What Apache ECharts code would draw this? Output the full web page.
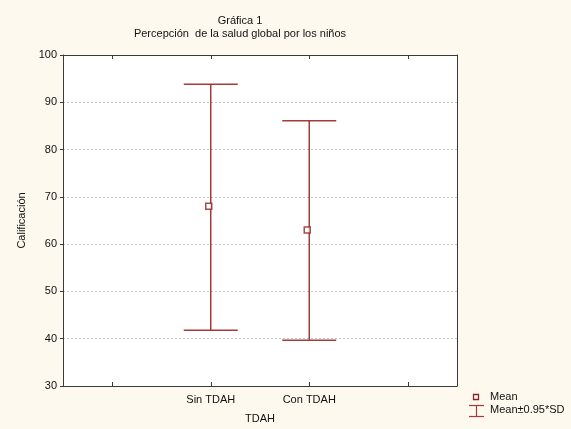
<!DOCTYPE html>
<html><head><meta charset="utf-8">
<script src="https://cdn.jsdelivr.net/npm/echarts@6/dist/echarts.min.js"></script>
<style>html,body{margin:0;padding:0;background:#fdf9ee;}#c{width:571px;height:429px;}</style>
</head><body><div id="c"></div>
<script>
var categories = ['', 'Sin TDAH', 'Con TDAH', ''];
var groupIndex = [1, 2];
var means = [68, 63];
var lower = [41.8, 39.7];
var upper = [93.8, 86.1];
var yTicks = [30, 40, 50, 60, 70, 80, 90, 100];

var RED = '#a63a3a';
var FONT = 'Liberation Sans, Arial, sans-serif';
var chart = echarts.init(document.getElementById('c'));

var errData = groupIndex.map(function (g, i) { return [g, lower[i], upper[i]]; });
var meanData = groupIndex.map(function (g, i) { return [g, means[i]]; });

chart.setOption({
  backgroundColor: '#fdf9ee',
  animation: false,
  title: [
    { text: 'Gráfica 1', left: 235, top: 10, textAlign: 'center',
      textStyle: { fontFamily: FONT, fontSize: 11, fontWeight: 'normal', color: '#111' } },
    { text: 'Percepción  de la salud global por los niños', left: 235, top: 23, textAlign: 'center',
      textStyle: { fontFamily: FONT, fontSize: 11, fontWeight: 'normal', color: '#111' } }
  ],
  grid: { left: 63, right: 114, top: 55, bottom: 41, show: true, backgroundColor: '#ffffff', borderWidth: 0 },
  xAxis: [
    { type: 'category', data: categories, boundaryGap: true, position: 'bottom',
      name: 'TDAH', nameLocation: 'middle', nameGap: 27,
      nameTextStyle: { fontFamily: FONT, fontSize: 11, color: '#111' },
      axisLine: { lineStyle: { color: '#3a3a3a', width: 1 } },
      axisTick: { show: true, alignWithLabel: true, interval: 0, inside: true, length: 4, lineStyle: { color: '#3a3a3a', width: 1 } },
      axisLabel: { fontFamily: FONT, fontSize: 11, color: '#111', margin: 8, interval: 0 },
      splitLine: { show: false } },
    { type: 'category', data: categories, boundaryGap: true, position: 'top',
      axisLine: { lineStyle: { color: '#3a3a3a', width: 1 } },
      axisTick: { show: true, alignWithLabel: true, interval: 0, inside: true, length: 4, lineStyle: { color: '#3a3a3a', width: 1 } },
      axisLabel: { show: false }, splitLine: { show: false } }
  ],
  yAxis: [
    { type: 'value', min: yTicks[0], max: yTicks[yTicks.length - 1], interval: 10, position: 'left',
      name: 'Calificación', nameLocation: 'middle', nameGap: 33, nameRotate: 90,
      nameTextStyle: { fontFamily: FONT, fontSize: 11, color: '#111' },
      axisLine: { show: true, lineStyle: { color: '#3a3a3a', width: 1 } },
      axisTick: { show: true, inside: false, length: 3, lineStyle: { color: '#3a3a3a' } },
      axisLabel: { fontFamily: FONT, fontSize: 11, color: '#111', margin: 6 },
      splitLine: { show: true, lineStyle: { color: '#c4c4c4', type: [2, 2], width: 1 } } },
    { type: 'value', min: yTicks[0], max: yTicks[yTicks.length - 1], interval: 10, position: 'right',
      axisLine: { show: true, lineStyle: { color: '#3a3a3a', width: 1 } },
      axisTick: { show: false }, axisLabel: { show: false }, splitLine: { show: false } }
  ],
  series: [
    { type: 'custom', name: 'Mean±0.95*SD', data: errData, z: 3,
      renderItem: function (params, api) {
        var x = api.value(0);
        var lo = api.coord([x, api.value(1)]);
        var hi = api.coord([x, api.value(2)]);
        var hw = 27;
        var st = { stroke: RED, lineWidth: 1.5 };
        return { type: 'group', children: [
          { type: 'line', shape: { x1: lo[0], y1: lo[1], x2: hi[0], y2: hi[1] }, style: st },
          { type: 'line', shape: { x1: lo[0] - hw, y1: lo[1], x2: lo[0] + hw, y2: lo[1] }, style: st },
          { type: 'line', shape: { x1: hi[0] - hw, y1: hi[1], x2: hi[0] + hw, y2: hi[1] }, style: st }
        ] };
      } },
    { type: 'scatter', name: 'Mean', data: meanData, symbol: 'rect', symbolSize: 6,
      symbolOffset: [-2, 0], z: 4,
      itemStyle: { color: '#ffffff', borderColor: '#8e2020', borderWidth: 1.5 } }
  ],
  graphic: [
    { type: 'rect', shape: { x: 473.5, y: 394.5, width: 5, height: 5 },
      style: { fill: '#ffffff', stroke: '#8e2020', lineWidth: 1.3 } },
    { type: 'text', x: 490, y: 397, style: { text: 'Mean', fontFamily: FONT, fontSize: 11, fill: '#111', textVerticalAlign: 'middle' } },
    { type: 'line', shape: { x1: 469, y1: 405.5, x2: 484, y2: 405.5 }, style: { stroke: RED, lineWidth: 1.2 } },
    { type: 'line', shape: { x1: 476.5, y1: 405.5, x2: 476.5, y2: 416.5 }, style: { stroke: RED, lineWidth: 1.2 } },
    { type: 'line', shape: { x1: 469, y1: 416.5, x2: 484, y2: 416.5 }, style: { stroke: RED, lineWidth: 1.2 } },
    { type: 'text', x: 490, y: 410, style: { text: 'Mean±0.95*SD', fontFamily: FONT, fontSize: 11, fill: '#111', textVerticalAlign: 'middle' } }
  ]
});
</script></body></html>
